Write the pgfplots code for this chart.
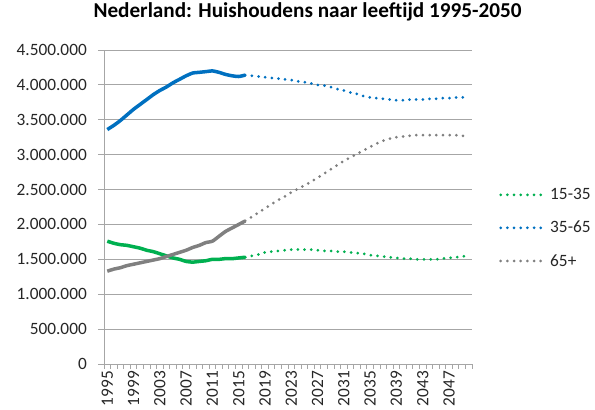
\documentclass[border=0pt]{standalone}
\usepackage{pgfplots}
\pgfplotsset{compat=1.18}
\usepackage{pgfplotstable}
\usepackage{fontspec}
\setmainfont{Carlito}
\definecolor{cblue}{HTML}{0070C0}
\definecolor{cgreen}{HTML}{00B050}
\definecolor{cgray}{HTML}{808080}
\definecolor{gridc}{HTML}{A6A6A6}
\pgfplotstableread{
year g b o
1995 1760 3360 1330
1996 1730 3420 1360
1997 1710 3490 1380
1998 1700 3570 1410
1999 1680 3650 1430
2000 1660 3720 1450
2001 1630 3790 1470
2002 1610 3860 1490
2003 1580 3920 1510
2004 1550 3970 1540
2005 1520 4030 1570
2006 1500 4080 1600
2007 1470 4130 1630
2008 1460 4170 1670
2009 1470 4180 1700
2010 1480 4190 1740
2011 1500 4200 1760
2012 1500 4180 1830
2013 1510 4150 1900
2014 1510 4130 1950
2015 1520 4120 2000
2016 1530 4140 2050
}\hist
\pgfplotstableread{
year g b o
2016 1530 4140 2050
2017 1550 4130 2110
2018 1570 4120 2170
2019 1600 4110 2230
2020 1610 4100 2290
2021 1620 4090 2350
2022 1630 4080 2400
2023 1640 4070 2460
2024 1640 4050 2510
2025 1640 4040 2560
2026 1640 4020 2610
2027 1630 4000 2670
2028 1620 3990 2730
2029 1620 3970 2790
2030 1610 3940 2850
2031 1610 3920 2910
2032 1600 3890 2960
2033 1590 3870 3010
2034 1580 3840 3060
2035 1560 3820 3110
2036 1550 3810 3160
2037 1540 3800 3200
2038 1530 3790 3230
2039 1520 3780 3250
2040 1510 3780 3260
2041 1510 3790 3270
2042 1500 3790 3280
2043 1500 3790 3280
2044 1500 3800 3280
2045 1500 3800 3280
2046 1510 3810 3280
2047 1520 3810 3280
2048 1530 3820 3280
2049 1540 3820 3270
2050 1550 3820 3270
}\proj
\begin{document}
\begin{tikzpicture}
\begin{axis}[
  name=ax,
  scale only axis, width=368bp, height=314bp,
  xmin=-0.5, xmax=55.5, ymin=0, ymax=4500,
  axis lines*=left,
  axis line style={draw=gridc, line width=0.8bp},
  ytick={0,500,...,4500},
  yticklabels={0,500.000,1.000.000,1.500.000,2.000.000,2.500.000,3.000.000,3.500.000,4.000.000,4.500.000},
  ymajorgrids, grid style={draw=gridc, line width=0.8bp},
  ytick style={draw=gridc, line width=0.8bp},
  ytick align=outside, major tick length=6bp,
  xtick={0,4,...,52},
  xticklabels={1995,1999,2003,2007,2011,2015,2019,2023,2027,2031,2035,2039,2043,2047},
  xtick style={draw=none},
  extra x ticks={-0.5,0.5,...,55.5},
  extra x tick labels={},
  extra x tick style={tick align=outside, major tick length=4.5bp, xtick style={draw=gridc, line width=0.8bp}, grid=none},
  tick label style={font=\fontsize{17.3bp}{20bp}\selectfont, text=black!85, inner sep=0pt},
  xticklabel style={rotate=90, anchor=east},
  xticklabel shift=7bp,
  yticklabel shift=11bp,
  title={Nederland: Huishoudens naar leeftijd 1995-2050},
  title style={font=\bfseries\fontsize{21.2bp}{24bp}\selectfont, at={(0.553,1)}, anchor=base, yshift=27bp, inner sep=0pt},
  legend style={at={(1.0734,0.433)}, anchor=west, draw=none, fill=none,
    font=\fontsize{17.3bp}{20bp}\selectfont, row sep=18bp, inner sep=0pt,
    nodes={inner sep=1bp, text=black!85}},
  legend cell align=left,
  legend image code/.code={\draw[#1, line width=3bp, dash pattern=on 0pt off 6.67bp, line cap=round] (0bp,0bp) -- (44bp,0bp);},
  every axis plot/.append style={smooth, tension=0.35},
]
\addplot[cgreen, line width=3.5bp, forget plot] table[x expr=\thisrow{year}-1995, y=g] {\hist};
\addplot[cblue, line width=3.5bp, forget plot] table[x expr=\thisrow{year}-1995, y=b] {\hist};
\addplot[cgray, line width=3.5bp, forget plot] table[x expr=\thisrow{year}-1995, y=o] {\hist};
\addplot[cgreen, line width=3bp, dash pattern=on 0pt off 6.67bp, line cap=round] table[x expr=\thisrow{year}-1995, y=g] {\proj};
\addlegendentry{\hspace{3bp}15-35}
\addplot[cblue, line width=3bp, dash pattern=on 0pt off 6.67bp, line cap=round] table[x expr=\thisrow{year}-1995, y=b] {\proj};
\addlegendentry{\hspace{3bp}35-65}
\addplot[cgray, line width=3bp, dash pattern=on 0pt off 6.67bp, line cap=round] table[x expr=\thisrow{year}-1995, y=o] {\proj};
\addlegendentry{\hspace{3bp}65+}
\end{axis}
\pgfresetboundingbox
\path[use as bounding box] ([xshift=-104bp,yshift=-46bp]ax.south west) rectangle ([xshift=123bp,yshift=50bp]ax.north east);
\end{tikzpicture}
\end{document}
